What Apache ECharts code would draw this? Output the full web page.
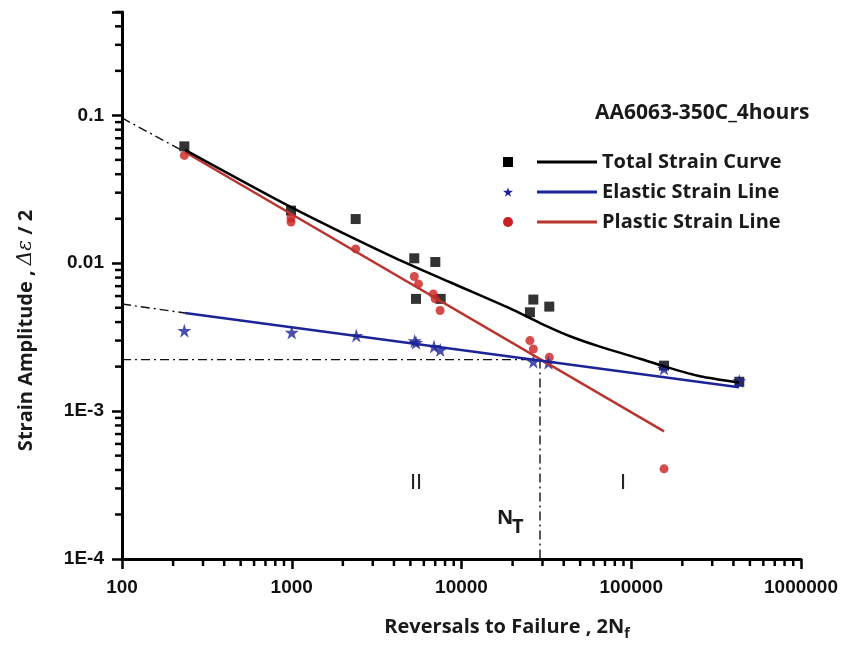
<!DOCTYPE html>
<html><head><meta charset="utf-8">
<script src="https://cdn.jsdelivr.net/npm/echarts@6/dist/echarts.min.js"></script>
<style>html,body{margin:0;padding:0;background:#fff}#c{width:842px;height:646px}</style>
</head><body><div id="c"></div>
<script>
// ---- tick labels ----
const xTickValues = [100, 1000, 10000, 100000, 1000000];
const xTickLabels = ['100', '1000', '10000', '100000', '1000000'];
const yTickValues = [0.0001, 0.001, 0.01, 0.1];
const yTickLabels = ['1E-4', '1E-3', '0.01', '0.1'];

// ---- series names ----
const seriesNames = ['Total Strain Curve', 'Elastic Strain Line', 'Plastic Strain Line'];
const titleText = 'AA6063-350C_4hours';

// ---- measured points (2Nf, strain amplitude) ----
const totalPoints = [[233,0.0617],[990,0.0227],[2380,0.0199],[5270,0.0108],[5395,0.00574],[7010,0.0102],[7540,0.00574],[25300,0.00466],[26500,0.00568],[32900,0.00509],[156000,0.00203],[433000,0.00158]];
const elasticPoints = [[233,0.0035],[1000,0.0034],[2400,0.00324],[5300,0.00298],[5400,0.0029],[6890,0.00273],[7500,0.00259],[26500,0.00216],[32500,0.00212],[156000,0.00194],[433000,0.0016]];
const plasticPoints = [[233,0.0536],[990,0.0202],[990,0.019],[2380,0.0125],[5270,0.00813],[5580,0.00725],[6820,0.0062],[7000,0.00574],[7480,0.00479],[25300,0.003],[26500,0.00263],[32900,0.00231],[156000,0.000407]];

// ---- fitted curves ----
const totalCurve = [[235,0.0585],[990,0.024],[3790,0.01128],[8560,0.00744],[19300,0.00495],[29000,0.00394],[43600,0.00321],[65400,0.00273],[112700,0.00226],[156000,0.00201],[254000,0.00172],[431000,0.00156]];
const elasticLine = [[235,0.00461],[431000,0.00145]];
const plasticLine = [[235,0.0565],[156000,0.00073]];
const elasticExt = [[100,0.0053],[235,0.00461]];
const plasticExt = [[100,0.096],[225,0.058]];
const transitionN = 29000;
const transitionS = 0.00223;
const axisMinY = 0.0001, axisMaxY = 0.5, axisMinX = 100, axisMaxX = 1000000;

// ---- minor ticks (2..9 per decade) ----
const minorX = [];
for (let e = 2; e < 6; e++) for (let k = 2; k <= 9; k++) minorX.push(k * Math.pow(10, e));
const minorY = [];
for (let e = -4; e < 0; e++) for (let k = 2; k <= 9; k++) { const v = k * Math.pow(10, e); if (v <= axisMaxY * 1.0001) minorY.push(v); }

const BLUE = '#1c2498', RED = '#cc1f1f', REDLINE = '#b8352f';
const SANS = '"Open Sans", "Noto Sans", sans-serif';
const ARIAL = '"Liberation Sans", Arial, sans-serif';
const STAR = 'path://M50,0 L61.8,36.2 L100,36.2 L69.1,58.8 L80.9,95.1 L50,72.7 L19.1,95.1 L30.9,58.8 L0,36.2 L38.2,36.2 Z';

function labelFor(values, labels) {
  return function (v) {
    const i = values.findIndex(t => Math.abs(Math.log10(t) - Math.log10(v)) < 1e-6);
    return i >= 0 ? labels[i] : '';
  };
}

const chart = echarts.init(document.getElementById('c'), null, { renderer: 'canvas' });
const dashDot = { color: '#111', width: 1.4, type: [9, 4, 2, 4] };

chart.setOption({
  animation: false,
  backgroundColor: '#fff',
  grid: { left: 122, right: 41, top: 12, bottom: 87 },
  title: { text: titleText, left: 595, top: 103, padding: 0,
    textStyle: { fontFamily: SANS, fontSize: 21, fontWeight: 'bold', color: '#1a1a1a' } },
  legend: [
    { orient: 'vertical', left: 503, top: 151, padding: 0, itemGap: 8, itemWidth: 10, itemHeight: 10,
      selectedMode: false, formatter: () => ' ',
      textStyle: { fontSize: 18, lineHeight: 22 },
      data: [
        { name: seriesNames[0], icon: 'rect', itemStyle: { color: '#000' } },
        { name: seriesNames[1], icon: STAR, itemStyle: { color: BLUE } },
        { name: seriesNames[2], icon: 'circle', itemStyle: { color: RED } }
      ] },
    { orient: 'vertical', left: 537, top: 151, padding: 0, itemGap: 8, itemWidth: 60, itemHeight: 3,
      textStyle: { fontFamily: SANS, fontSize: 20, fontWeight: 'bold', color: '#1a1a1a', lineHeight: 22 },
      data: [
        { name: seriesNames[0], icon: 'rect', itemStyle: { color: '#000' } },
        { name: seriesNames[1], icon: 'rect', itemStyle: { color: BLUE } },
        { name: seriesNames[2], icon: 'rect', itemStyle: { color: REDLINE } }
      ] }
  ],
  xAxis: {
    type: 'log', logBase: 10, min: axisMinX, max: axisMaxX, position: 'bottom',
    axisLine: { show: true, lineStyle: { color: '#000', width: 3 } },
    axisTick: { show: true, inside: false, length: 10, lineStyle: { color: '#000', width: 2.5 } },
    axisLabel: { formatter: labelFor(xTickValues, xTickLabels), margin: 19,
      fontFamily: ARIAL, fontSize: 19, fontWeight: 'bold', color: '#111' },
    splitLine: { show: false },
    name: '{a|Reversals to Failure , 2N}{s|f}', nameLocation: 'middle', nameGap: 55,
    nameTextStyle: { padding: [0, 0, 0, 91], rich: {
      a: { fontFamily: SANS, fontSize: 20, fontWeight: 'bold', color: '#1a1a1a' },
      s: { fontFamily: SANS, fontSize: 14, fontWeight: 'bold', color: '#1a1a1a', padding: [13, 0, 0, 0] } } }
  },
  yAxis: {
    type: 'log', logBase: 10, min: axisMinY, max: axisMaxY, position: 'left',
    axisLine: { show: true, lineStyle: { color: '#000', width: 3 } },
    axisTick: { show: true, inside: false, length: 10, lineStyle: { color: '#000', width: 2.5 } },
    axisLabel: { formatter: labelFor(yTickValues, yTickLabels), margin: 18,
      fontFamily: ARIAL, fontSize: 19, fontWeight: 'bold', color: '#111' },
    splitLine: { show: false },
    name: '{a|Strain Amplitude , }{g|Δε}{a| / 2}', nameLocation: 'middle', nameGap: 86,
    nameTextStyle: { padding: [0, 90, 0, 0], rich: {
      a: { fontFamily: SANS, fontSize: 20, fontWeight: 'bold', color: '#1a1a1a' },
      g: { fontFamily: '"DejaVu Serif", serif', fontSize: 20, fontStyle: 'italic', color: '#1a1a1a' } } }
  },
  series: [
    { name: 'plastic-ext', type: 'line', data: plasticExt, showSymbol: false, silent: true, lineStyle: dashDot },
    { name: 'elastic-ext', type: 'line', data: elasticExt, showSymbol: false, silent: true, lineStyle: dashDot },
    { name: 'nt-h', type: 'line', data: [[axisMinX, transitionS], [transitionN, transitionS]], showSymbol: false, silent: true, lineStyle: dashDot },
    { name: 'nt-v', type: 'line', data: [[transitionN, transitionS], [transitionN, axisMinY]], showSymbol: false, silent: true, lineStyle: dashDot },
    { name: seriesNames[2], type: 'line', data: plasticLine, showSymbol: false, lineStyle: { color: REDLINE, width: 2.5 }, itemStyle: { color: REDLINE } },
    { name: seriesNames[1], type: 'line', data: elasticLine, showSymbol: false, lineStyle: { color: BLUE, width: 2.5 }, itemStyle: { color: BLUE } },
    { name: seriesNames[0], type: 'line', data: totalCurve, smooth: 0.25, showSymbol: false, lineStyle: { color: '#000', width: 2.5 }, itemStyle: { color: '#000' } },
    { name: seriesNames[0], type: 'scatter', data: totalPoints, symbol: 'rect', symbolSize: 10, itemStyle: { color: '#000' } },
    { name: seriesNames[2], type: 'scatter', data: plasticPoints, symbol: 'circle', symbolSize: 9, itemStyle: { color: RED } },
    { name: seriesNames[1], type: 'scatter', data: elasticPoints, symbol: STAR, symbolSize: 14, itemStyle: { color: BLUE } }
  ]
});

// Annotations and minor ticks (2..9 of each decade), placed through the chart's own axis scales
const graphics = [
  { type: 'text', left: 410, top: 472, style: { text: 'II', font: '22px "Liberation Sans", Arial, sans-serif', fill: '#222' } },
  { type: 'text', left: 620, top: 472, style: { text: 'I', font: '22px "Liberation Sans", Arial, sans-serif', fill: '#222' } },
  { type: 'text', left: 497, top: 508, style: { text: 'N', font: 'bold 20px "Open Sans", sans-serif', fill: '#1a1a1a' } },
  { type: 'text', left: 512, top: 517, style: { text: 'T', font: 'bold 20px "Open Sans", sans-serif', fill: '#1a1a1a' } }
];
minorX.forEach(function (v) {
  const p = chart.convertToPixel({ gridIndex: 0 }, [v, axisMinY]);
  graphics.push({ type: 'line', silent: true, z: 10, shape: { x1: p[0], y1: p[1], x2: p[0], y2: p[1] + 7 }, style: { stroke: '#000', lineWidth: 2.5 } });
});
minorY.forEach(function (v) {
  const p = chart.convertToPixel({ gridIndex: 0 }, [axisMinX, v]);
  graphics.push({ type: 'line', silent: true, z: 10, shape: { x1: p[0], y1: p[1], x2: p[0] - 7, y2: p[1] }, style: { stroke: '#000', lineWidth: 2.5 } });
});
chart.setOption({ graphic: graphics });
</script>
</body></html>
